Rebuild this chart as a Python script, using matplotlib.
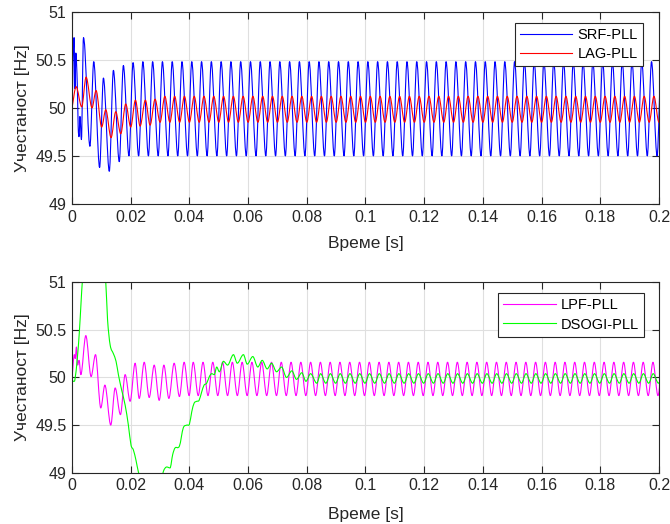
import numpy as np
import matplotlib
matplotlib.use("Agg")
import matplotlib.pyplot as plt
from matplotlib.path import Path
from matplotlib.patches import PathPatch

# ---------------- data ----------------
period = 1 / 300.0          # ripple period: 6 cycles per 0.02 s

# SRF-PLL (top, blue) transient points, last one is a peak
srf_t = [0.0, 0.0007, 0.0010, 0.0013, 0.0018, 0.0021, 0.0024, 0.0027, 0.0032,
         0.0039, 0.0044, 0.0061, 0.0074, 0.0094, 0.0107, 0.0127, 0.0141,
         0.0161, 0.0175, 0.0194, 0.0208]
srf_v = [50.0, 50.73, 50.20, 50.57, 50.24, 49.80, 49.70, 49.91, 49.67,
         50.73, 50.60, 49.60, 50.48, 49.38, 50.31, 49.34, 50.39,
         49.44, 50.44, 49.50, 50.47]
srf_peak, srf_trough, srf_lag = 50.48, 49.50, 0.0019

# LAG-PLL (top, red)
lag_t = [0.0, 0.0014, 0.0033, 0.0048, 0.0068, 0.0082, 0.0101, 0.0115, 0.0133,
         0.0149, 0.0166, 0.0183, 0.0200, 0.0216, 0.0232, 0.0250, 0.0266, 0.0283]
lag_v = [50.0, 50.22, 50.01, 50.32, 50.00, 50.18, 49.80, 49.98, 49.69,
         49.96, 49.73, 50.04, 49.80, 50.08, 49.81, 50.08, 49.82, 50.09]
lag_peak, lag_trough, lag_lag = 50.12, 49.85, 0.0017

# LPF-PLL (bottom, magenta)
lpf_t = [0.0, 0.0008, 0.0011, 0.0015, 0.0019, 0.0024, 0.0030, 0.0047, 0.0065,
         0.0080, 0.0098, 0.0112, 0.0132, 0.0147, 0.0165, 0.0181, 0.0198,
         0.0215, 0.0229, 0.0246, 0.0263, 0.0280, 0.0297, 0.0313, 0.0330,
         0.0348, 0.0366, 0.0382, 0.0399, 0.0413]
lpf_v = [50.0, 50.24, 50.20, 50.32, 50.13, 50.18, 50.03, 50.44, 50.01,
         50.24, 49.68, 49.92, 49.50, 49.89, 49.61, 50.03, 49.75,
         50.15, 49.78, 50.16, 49.79, 50.13, 49.76, 50.13, 49.78,
         50.15, 49.80, 50.16, 49.81, 50.16]
lpf_peak, lpf_trough, lpf_lag = 50.16, 49.81, 0.0017

# DSOGI-PLL (bottom, green)
dsogi_t = [0.0, 0.0005, 0.0010, 0.0018, 0.0025, 0.0031, 0.0035, 0.0050, 0.0075,
           0.0100, 0.0115, 0.0121, 0.0130, 0.0141, 0.0150, 0.0158, 0.0169,
           0.0181, 0.0192, 0.0201, 0.0209, 0.0218, 0.0226, 0.0250, 0.0280,
           0.0300, 0.0311, 0.0323, 0.0334, 0.0343, 0.0351, 0.0366, 0.0379,
           0.0391, 0.0400, 0.0408, 0.0416, 0.0425, 0.0433, 0.0442, 0.0450,
           0.0459, 0.0468, 0.0476, 0.0485, 0.0493, 0.0502, 0.0516, 0.0530,
           0.0550, 0.0563, 0.0584, 0.0597, 0.0616, 0.0633, 0.0648, 0.0665,
           0.0680, 0.0697, 0.0714, 0.0731, 0.0749, 0.0765, 0.0783, 0.0797,
           0.0813, 0.0834, 0.0847]
dsogi_v = [49.97, 49.96, 49.98, 50.20, 50.48, 50.80, 51.00, 51.50, 51.80,
           51.40, 51.00, 50.61, 50.34, 50.25, 50.17, 50.03, 49.87,
           49.71, 49.50, 49.29, 49.24, 49.13, 49.01, 48.75, 48.70,
           48.85, 49.01, 49.06, 49.05, 49.19, 49.26, 49.28, 49.47,
           49.50, 49.51, 49.64, 49.73, 49.75, 49.76, 49.85, 49.92,
           49.94, 50.01, 50.04, 50.03, 50.11, 50.06, 50.17, 50.13,
           50.24, 50.15, 50.24, 50.14, 50.22, 50.11, 50.18, 50.09,
           50.15, 50.06, 50.11, 50.00, 50.07, 49.98, 50.05, 49.96,
           50.04, 49.94, 50.04]
dsogi_peak, dsogi_trough, dsogi_lag = 50.04, 49.94, 0.0018

x_ticks = [0, 0.02, 0.04, 0.06, 0.08, 0.1, 0.12, 0.14, 0.16, 0.18, 0.2]
x_ticklabels = ["0", "0.02", "0.04", "0.06", "0.08", "0.1", "0.12", "0.14",
                "0.16", "0.18", "0.2"]
y_ticks = [49, 49.5, 50, 50.5, 51]
y_ticklabels = ["49", "49.5", "50", "50.5", "51"]


def series(t, v, peak, trough, lag, t_end=0.2):
    """Transient points followed by the steady ripple extrema."""
    t = list(t)
    v = list(v)
    last = t[-1]
    k = 1
    while last + (k - 1) * period < t_end + period:
        pk = last + k * period
        t += [pk - period + lag, pk]
        v += [trough, peak]
        k += 1
    return np.array(t), np.array(v)


def smooth_path(t, v):
    """Cubic Bezier path through the points (flat tangent at extrema)."""
    n = len(t)
    m = np.zeros(n)
    for i in range(n):
        if i == 0:
            m[i] = (v[1] - v[0]) / (t[1] - t[0])
        elif i == n - 1:
            m[i] = (v[-1] - v[-2]) / (t[-1] - t[-2])
        else:
            d1 = v[i] - v[i - 1]
            d2 = v[i + 1] - v[i]
            if d1 * d2 <= 0:
                m[i] = 0.0
            else:
                m[i] = (v[i + 1] - v[i - 1]) / (t[i + 1] - t[i - 1])
    verts = [(t[0], v[0])]
    codes = [Path.MOVETO]
    for i in range(n - 1):
        h = (t[i + 1] - t[i]) / 3.0
        verts += [(t[i] + h, v[i] + h * m[i]),
                  (t[i + 1] - h, v[i + 1] - h * m[i + 1]),
                  (t[i + 1], v[i + 1])]
        codes += [Path.CURVE4] * 3
    return Path(verts, codes)


plt.rcParams['font.family'] = ['Liberation Sans', 'DejaVu Sans']

fig = plt.figure(figsize=(6.7, 5.24), dpi=100)
ax1 = fig.add_axes([0.1075, 0.6107, 0.876, 0.367])
ax2 = fig.add_axes([0.1075, 0.0979, 0.876, 0.3634])

lw = 0.8
specs = [
    (ax1, srf_t, srf_v, srf_peak, srf_trough, srf_lag, (0, 0, 1), "SRF-PLL"),
    (ax1, lag_t, lag_v, lag_peak, lag_trough, lag_lag, (1, 0, 0), "LAG-PLL"),
    (ax2, lpf_t, lpf_v, lpf_peak, lpf_trough, lpf_lag, (1, 0, 1), "LPF-PLL"),
    (ax2, dsogi_t, dsogi_v, dsogi_peak, dsogi_trough, dsogi_lag, (0, 1, 0),
     "DSOGI-PLL"),
]
for ax, tt, vv, pk, tr, lg, col, lab in specs:
    t, v = series(tt, vv, pk, tr, lg)
    ax.add_patch(PathPatch(smooth_path(t, v), fill=False, edgecolor=col,
                           lw=lw, joinstyle="round", capstyle="round"))
    ax.plot([], [], color=col, lw=lw, label=lab)

spine_c = "#262626"
for ax, leg_anchor in ((ax1, (0.9727, 0.943)), (ax2, (0.9745, 0.942))):
    ax.set_xlim(0, 0.2)
    ax.set_ylim(49, 51)
    ax.set_xticks(x_ticks)
    ax.set_xticklabels(x_ticklabels)
    ax.set_yticks(y_ticks)
    ax.set_yticklabels(y_ticklabels)
    ax.grid(True, color="#dfdfdf", lw=0.8)
    ax.set_axisbelow(True)
    for s in ax.spines.values():
        s.set_color(spine_c)
        s.set_linewidth(0.8)
    ax.tick_params(direction="in", length=5, width=0.8, colors=spine_c,
                   labelcolor="#262626", labelsize=11.5, top=True, right=True,
                   pad=4)
    ax.set_xlabel("Време [s]", fontsize=12.5, color="#262626")
    ax.set_ylabel("Учестаност [Hz]", fontsize=12.5, color="#262626",
                  va="center")
    ax.yaxis.set_label_coords(-0.085, 0.5)
    ax.xaxis.label.set_va("center")
    leg = ax.legend(loc="upper right", bbox_to_anchor=leg_anchor,
                    borderaxespad=0, fontsize=10.5, frameon=True,
                    fancybox=False, framealpha=1, edgecolor=spine_c,
                    handlelength=3.6, handletextpad=0.35, labelspacing=0.35,
                    borderpad=0.35)
    leg.get_frame().set_linewidth(0.8)

ax1.xaxis.set_label_coords(0.5, -0.203)
ax2.xaxis.set_label_coords(0.5, -0.222)

fig.savefig("out.png", dpi=100)
